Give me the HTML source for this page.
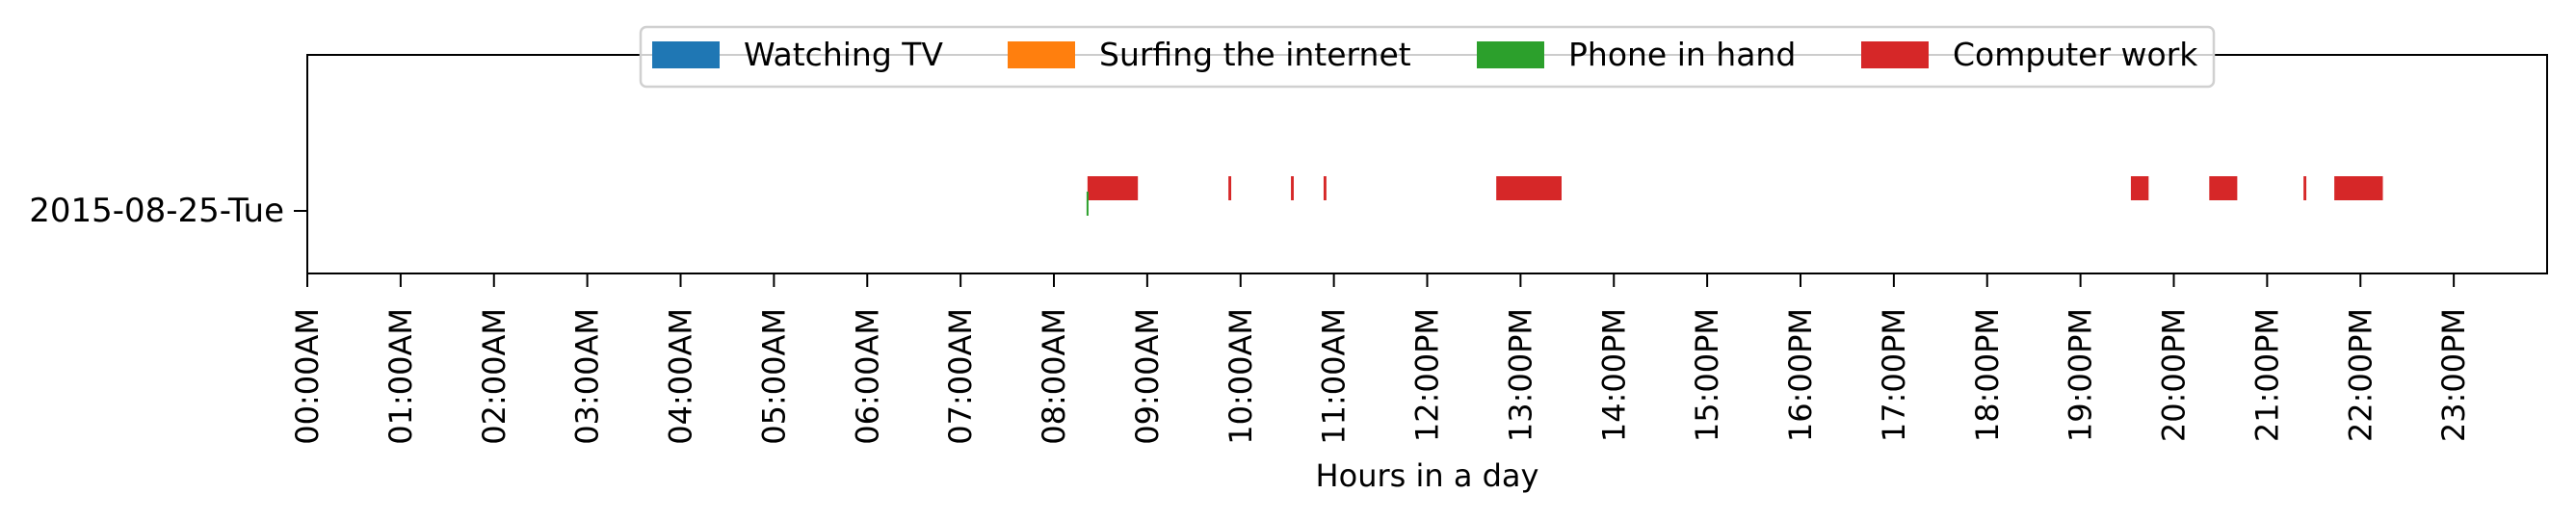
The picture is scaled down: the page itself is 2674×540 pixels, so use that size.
<!DOCTYPE html>
<html><head><meta charset="utf-8"><style>
html,body{margin:0;padding:0;background:#fff;}
svg{display:block;font-family:"DejaVu Sans","Liberation Sans",sans-serif;}
</style></head><body>
<svg id="chart" width="2674" height="540" viewBox="0 0 2674 540">
<g id="marks"></g>
<g id="axes"></g>
<g id="legend"></g>
</svg>
<script>
const categories = ["Watching TV","Surfing the internet","Phone in hand","Computer work"];
const colors = ["#1f77b4","#ff7f0e","#2ca02c","#d62728"];
const dayLabels = ["2015-08-25-Tue"];
const tickLabels = ["00:00AM","01:00AM","02:00AM","03:00AM","04:00AM","05:00AM","06:00AM","07:00AM","08:00AM","09:00AM","10:00AM","11:00AM","12:00PM","13:00PM","14:00PM","15:00PM","16:00PM","17:00PM","18:00PM","19:00PM","20:00PM","21:00PM","22:00PM","23:00PM"];
const phoneStarts = [8.35];
const phoneEnds = [8.37];
const computerStarts = [8.36, 9.87, 10.54, 10.89, 12.74, 19.54, 20.38, 21.39, 21.72];
const computerEnds = [8.90, 9.90, 10.57, 10.92, 13.44, 19.73, 20.68, 21.42, 22.24];

const NS="http://www.w3.org/2000/svg";
const X0=319, X1=2644, Y0=57, Y1=284, rowY=219;
function xScale(h){return X0+(h/24)*(X1-X0);}
function mk(tag,attrs,parent){const e=document.createElementNS(NS,tag);for(const k in attrs)e.setAttribute(k,attrs[k]);parent.appendChild(e);return e;}
const marks=document.getElementById('marks'), axes=document.getElementById('axes'), legend=document.getElementById('legend');

computerStarts.forEach((s,i)=>{
  const r=mk('rect',{x:xScale(s),y:183,width:Math.max(2.5,xScale(computerEnds[i])-xScale(s)),height:25,fill:colors[3]},marks);
  
  
});
phoneStarts.forEach((s,i)=>{
  const r=mk('rect',{x:xScale(s),y:199,width:Math.max(2,xScale(phoneEnds[i])-xScale(s)),height:25,fill:colors[2]},marks);
  
  
});

const frame=mk('rect',{x:X0,y:Y0,width:X1-X0,height:Y1-Y0,fill:'none',stroke:'#000','stroke-width':2},axes);



tickLabels.forEach((t,i)=>{
  const x=xScale(i);
  const tk=mk('line',{x1:x,y1:Y1,x2:x,y2:Y1+14,stroke:'#000','stroke-width':2},axes);
  
  
  const tx=mk('text',{x:0,y:0,transform:`translate(${x},320) rotate(-90)`,'text-anchor':'end','dominant-baseline':'central','font-size':32,fill:'#000'},axes);
  tx.textContent=t;
  
  
});
dayLabels.forEach((d,i)=>{
  const yt=mk('line',{x1:X0-14,y1:rowY,x2:X0,y2:rowY,stroke:'#000','stroke-width':2},axes);
  
  
  const t=mk('text',{x:X0-24,y:rowY,'text-anchor':'end','dominant-baseline':'central','font-size':34,fill:'#000'},axes);
  t.textContent=d;
  
  
});
const xl=mk('text',{x:(X0+X1)/2,y:494,'text-anchor':'middle','dominant-baseline':'central','font-size':32,fill:'#000'},axes);
xl.textContent='Hours in a day';



const box=mk('rect',{x:665,y:28,width:1633,height:62,rx:6,fill:'#fff','fill-opacity':0.8,stroke:'#d0d0d0','stroke-width':2.5},legend);


const patchX=[677,1046,1533,1932];
categories.forEach((c,i)=>{
  const g=mk('g',{},legend);
  
  
  mk('rect',{x:patchX[i],y:43,width:70,height:28,fill:colors[i]},g);
  const t=mk('text',{x:patchX[i]+95,y:68,'font-size':33,fill:'#000'},g);
  t.textContent=c;
});
</script>
</body></html>
